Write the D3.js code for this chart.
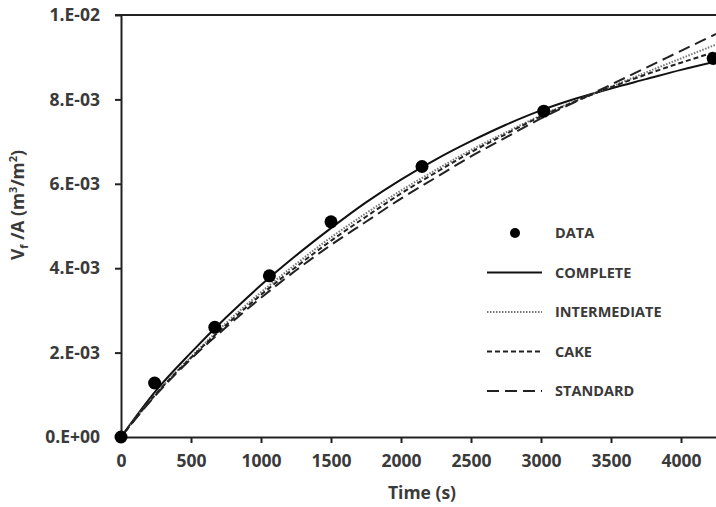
<!DOCTYPE html>
<html>
<head>
<meta charset="utf-8">
<script src="https://cdn.jsdelivr.net/npm/d3@7"></script>
<style>
  body { margin: 0; background: #fff; }
  svg { display: block; }
  text { font-family: 'Open Sans', sans-serif; font-weight: 700; fill: #3a3a3a; }
</style>
</head>
<body>
<div id="chart"></div>
<script>
// Data (time in s, volume in m3/m2)
const dataTime = [0, 240, 670, 1060, 1500, 2150, 3020, 4230];
const dataVol = [0, 1.28e-3, 2.6e-3, 3.82e-3, 5.1e-3, 6.41e-3, 7.72e-3, 8.97e-3];

// Model curves, volumes in 1e-3 m3/m2
const modelTime = [0, 250, 500, 750, 1000, 1250, 1500, 1750, 2000, 2250, 2500, 2750, 3000, 3250, 3500, 3750, 4000, 4250];
const completeVol = [0, 1.1, 2.0, 2.83, 3.6, 4.3, 4.95, 5.56, 6.1, 6.58, 7.01, 7.4, 7.74, 8.02, 8.26, 8.48, 8.7, 8.9];
const intermediateVol = [0, 1.03, 1.9, 2.7, 3.43, 4.1, 4.73, 5.3, 5.84, 6.33, 6.8, 7.22, 7.62, 7.97, 8.3, 8.64, 8.97, 9.3];
const cakeVol = [0, 1.02, 1.88, 2.65, 3.37, 4.03, 4.65, 5.22, 5.77, 6.27, 6.75, 7.18, 7.6, 7.96, 8.29, 8.59, 8.87, 9.13];
const standardVol = [0, 1.0, 1.85, 2.6, 3.3, 3.95, 4.55, 5.1, 5.65, 6.15, 6.65, 7.1, 7.55, 7.95, 8.35, 8.75, 9.15, 9.55];

const xTicks = [0, 500, 1000, 1500, 2000, 2500, 3000, 3500, 4000];
const yTicks = [0, 0.002, 0.004, 0.006, 0.008, 0.01];

const seriesNames = ['COMPLETE', 'INTERMEDIATE', 'CAKE', 'STANDARD'];
const seriesVols = [completeVol, intermediateVol, cakeVol, standardVol];
const seriesDash = [null, '1.5,1.5', '5,3', '12,6'];
const seriesColor = ['#111', '#777', '#222', '#222'];

const W = 716, H = 507;
const svg = d3
  .select('#chart')
  .append('svg')
  .attr('width', W)
  .attr('height', H);

// Scales
const x = d3.scaleLinear().domain([0, 4250]).range([121, 716]);
const y = d3.scaleLinear().domain([0, 0.01]).range([437, 15]);

function sciFormat(v) {
  if (v === 0) return '0.E+00';
  const parts = v.toExponential(0).split('e');
  const ex = +parts[1];
  return parts[0] + '.E' + (ex < 0 ? '-' : '+') + String(Math.abs(ex)).padStart(2, '0');
}

// Top frame line
svg
  .append('line')
  .attr('x1', 115)
  .attr('x2', W)
  .attr('y1', y(0.01))
  .attr('y2', y(0.01))
  .attr('stroke', '#222')
  .attr('stroke-width', 2);

// Axes
const xAxis = svg
  .append('g')
  .attr('transform', 'translate(0,' + y(0) + ')')
  .call(
    d3
      .axisBottom(x)
      .tickValues(xTicks)
      .tickFormat(d3.format('d'))
      .tickSize(6)
      .tickSizeOuter(0)
      .tickPadding(12)
  );
const yAxis = svg
  .append('g')
  .attr('transform', 'translate(' + x(0) + ',0)')
  .call(
    d3
      .axisLeft(y)
      .tickValues(yTicks)
      .tickFormat(sciFormat)
      .tickSize(6)
      .tickSizeOuter(0)
      .tickPadding(15)
  );

[xAxis, yAxis].forEach(function(a) {
  a.select('.domain').attr('stroke', '#222').attr('stroke-width', 2);
  a.selectAll('.tick line').attr('stroke', '#222').attr('stroke-width', 2);
  a.selectAll('.tick text')
    .attr('font-size', '17.5px')
    .style('font-family', "'Open Sans', sans-serif")
    .style('font-weight', 700)
    .attr('fill', '#3a3a3a');
});

// Model curves
const line = d3
  .line()
  .x(function(d) {
    return x(d[0]);
  })
  .y(function(d) {
    return y(d[1]);
  })
  .curve(d3.curveMonotoneX);

seriesVols.forEach(function(vols, i) {
  const pts = modelTime.map(function(t, j) {
    return [t, vols[j] * 1e-3];
  });
  svg
    .append('path')
    .attr('d', line(pts))
    .attr('fill', 'none')
    .attr('stroke', seriesColor[i])
    .attr('stroke-width', 2)
    .attr('stroke-dasharray', seriesDash[i]);
});

// Data points
svg
  .selectAll('circle.data')
  .data(dataTime)
  .enter()
  .append('circle')
  .attr('class', 'data')
  .attr('cx', function(d) {
    return x(d);
  })
  .attr('cy', function(d, i) {
    return y(dataVol[i]);
  })
  .attr('r', 6.5)
  .attr('fill', '#000');

// Legend
const legend = svg.append('g').attr('transform', 'translate(487,233)');
const rowH = 39.5;
legend
  .append('circle')
  .attr('cx', 28)
  .attr('cy', 0)
  .attr('r', 5)
  .attr('fill', '#000');
legend
  .append('text')
  .attr('x', 68)
  .attr('y', 0)
  .attr('dy', '0.35em')
  .attr('font-size', '14.5px')
  .text('DATA');
seriesNames.forEach(function(name, i) {
  const yy = (i + 1) * rowH;
  legend
    .append('line')
    .attr('x1', 0)
    .attr('x2', 55)
    .attr('y1', yy)
    .attr('y2', yy)
    .attr('stroke', seriesColor[i])
    .attr('stroke-width', 2)
    .attr('stroke-dasharray', seriesDash[i]);
  legend
    .append('text')
    .attr('x', 68)
    .attr('y', yy)
    .attr('dy', '0.35em')
    .attr('font-size', '14.5px')
    .text(name);
});

// Axis titles
svg
  .append('text')
  .attr('x', x(2150))
  .attr('y', 499)
  .attr('text-anchor', 'middle')
  .attr('font-size', '17.5px')
  .text('Time (s)');

const yTitle = svg
  .append('text')
  .attr('transform', 'translate(24,' + 205 + ') rotate(-90)')
  .attr('text-anchor', 'middle')
  .attr('font-size', '17.5px');
yTitle.append('tspan').text('V');
yTitle.append('tspan').attr('font-size', '11px').attr('dy', 4).text('f');
yTitle.append('tspan').attr('dy', -4).text(' /A (m');
yTitle.append('tspan').attr('font-size', '11px').attr('dy', -7).text('3');
yTitle.append('tspan').attr('dy', 7).text('/m');
yTitle.append('tspan').attr('font-size', '11px').attr('dy', -7).text('2');
yTitle.append('tspan').attr('dy', 7).text(')');
</script>
</body>
</html>
